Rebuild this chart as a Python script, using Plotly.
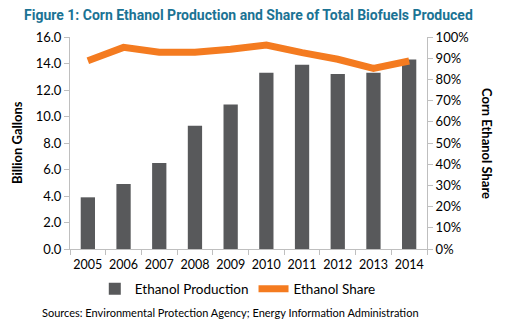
import plotly.graph_objects as go

years = ["2005", "2006", "2007", "2008", "2009", "2010", "2011", "2012", "2013", "2014"]
production = [3.9, 4.9, 6.5, 9.3, 10.9, 13.3, 13.9, 13.2, 13.3, 14.3]
share = [0.888, 0.951, 0.928, 0.928, 0.942, 0.962, 0.926, 0.895, 0.852, 0.887]

left_ticks = [0, 2, 4, 6, 8, 10, 12, 14, 16]
left_labels = [f"{v:.1f}" for v in left_ticks]
right_ticks = [i / 10 for i in range(11)]
right_labels = [f"{i * 10}%" for i in range(11)]

BAR = "#58595b"
ORANGE = "#f47b20"
AXIS = "#bfbfbf"
FONT = "Lato"

fig = go.Figure()
fig.add_trace(go.Bar(
    x=years, y=production, name="Ethanol Production",
    marker=dict(color=BAR, line=dict(width=0)), yaxis="y",
))
fig.add_trace(go.Scatter(
    x=years, y=share, name="Ethanol Share", mode="lines",
    line=dict(color=ORANGE, width=7), yaxis="y2",
))

fig.update_layout(
    width=505, height=335,
    margin=dict(l=70, r=78, t=37, b=86, autoexpand=False),
    plot_bgcolor="white", paper_bgcolor="white",
    bargap=0.6,
    font=dict(family=FONT, size=13, color="#000000"),
    showlegend=True,
    legend=dict(
        orientation="h", x=0.47, xanchor="center", y=-0.115, yanchor="top",
        font=dict(family=FONT, size=13.5), traceorder="normal",
        itemwidth=30,
    ),
    xaxis=dict(
        type="category", showline=True, linecolor=AXIS, linewidth=1,
        ticks="outside", tickson="boundaries", ticklen=5, tickcolor=AXIS,
        showgrid=False, tickfont=dict(size=12.5), tickangle=0,
        ticklabelstandoff=4,
    ),
    yaxis=dict(
        range=[0, 16], tickvals=left_ticks, ticktext=left_labels,
        showline=True, linecolor=AXIS, linewidth=1,
        ticks="outside", ticklen=5, tickcolor=AXIS, showgrid=False,
        zeroline=False, tickfont=dict(size=13),
    ),
    yaxis2=dict(
        range=[0, 1], tickvals=right_ticks, ticktext=right_labels,
        overlaying="y", side="right",
        showline=True, linecolor=AXIS, linewidth=1,
        ticks="outside", ticklen=5, tickcolor=AXIS, showgrid=False,
        zeroline=False, tickfont=dict(size=13),
    ),
    annotations=[
        dict(text="<b>Figure 1: Corn Ethanol Production and Share of Total Biofuels Produced</b>",
             xref="paper", yref="paper", x=0.5, y=1, yshift=22, xanchor="center", yanchor="middle",
             showarrow=False, font=dict(family="Roboto", size=14, color="#1b7394")),
        dict(text="<b>Billion Gallons</b>", xref="paper", yref="paper", x=0, xshift=-53,
             y=0.5, textangle=-90, showarrow=False, xanchor="center", yanchor="middle",
             font=dict(family=FONT, size=13)),
        dict(text="<b>Corn Ethanol Share</b>", xref="paper", yref="paper", x=1, xshift=60,
             y=0.5, textangle=90, showarrow=False, xanchor="center", yanchor="middle",
             font=dict(family=FONT, size=13)),
        dict(text="Sources: Environmental Protection Agency; Energy Information Administration",
             xref="paper", yref="paper", x=0.45, y=0, yshift=-63, xanchor="center", yanchor="middle",
             showarrow=False, font=dict(family=FONT, size=11)),
    ],
)

fig.write_html("out.html")
